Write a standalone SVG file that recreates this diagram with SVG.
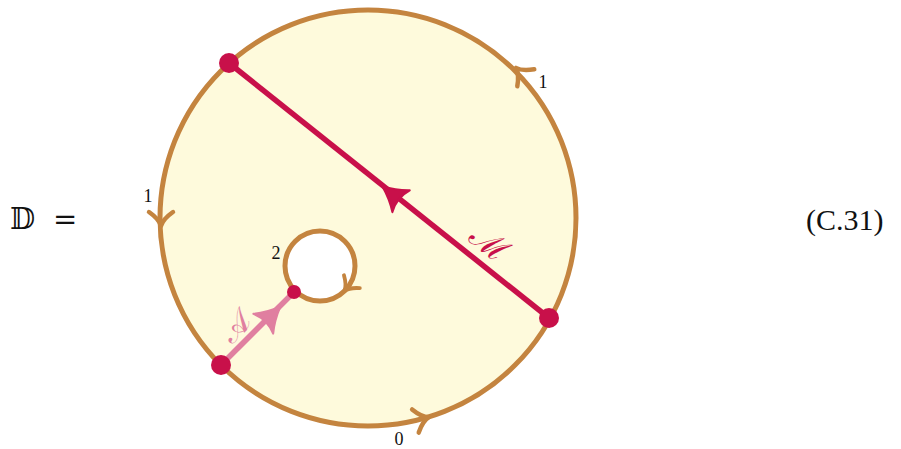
<svg xmlns="http://www.w3.org/2000/svg" width="901" height="449" viewBox="0 0 901 449">
<defs>
<style>
.bd{stroke:#c4843f;stroke-width:5}
.barb{fill:none;stroke:#c4843f;stroke-width:4.5;stroke-linecap:round;stroke-linejoin:round}
.num{font-family:"Liberation Serif","DejaVu Serif",serif;font-size:18px;fill:#111;text-anchor:middle}
.big{font-family:"DejaVu Serif","Liberation Serif",serif;font-size:29px;fill:#111}
</style>
<path id="to" d="M-11,-12 Q-4,-2 3,0 Q-4,2 -11,12"/>
<path id="stealth" d="M6,0 C-4,-4 -12,-9 -18,-14 Q-12,0 -18,14 C-12,9 -4,4 6,0 Z"/>
</defs>
<rect width="901" height="449" fill="#ffffff"/>
<g id="disk">
<circle cx="368" cy="218" r="208" style="fill:#fefadc" class="bd"/>
<use href="#to" class="barb" transform="translate(518,70) rotate(-135)"/>
<use href="#to" class="barb" transform="translate(161,223) rotate(90)"/>
<use href="#to" class="barb" transform="translate(426,418) rotate(-16)"/>
</g>
<g id="hole">
<circle cx="320" cy="266" r="35" style="fill:#ffffff" class="bd"/>
<use href="#to" class="barb" transform="translate(346,289) rotate(129) scale(0.85)"/>
</g>
<g id="connectors">
<line x1="229" y1="63" x2="549" y2="318" stroke="#c8104a" stroke-width="5.5"/>
<use href="#stealth" fill="#c8104a" stroke="#c8104a" stroke-width="2" stroke-linejoin="round" transform="translate(387,190) rotate(-141.45)"/>
<line x1="221" y1="365" x2="294" y2="292" stroke="#e07fa0" stroke-width="5.5"/>
<use href="#stealth" fill="#e07fa0" stroke="#e07fa0" stroke-width="2" stroke-linejoin="round" transform="translate(276,311) rotate(-45)"/>
</g>
<g id="dots" fill="#c8104a">
<circle cx="229" cy="63" r="10"/>
<circle cx="549" cy="318" r="10"/>
<circle cx="221" cy="365" r="10"/>
<circle cx="294" cy="292" r="7"/>
</g>
<g id="labels">
<text class="num" x="543" y="88">1</text>
<text class="num" x="148" y="202">1</text>
<text class="num" x="276" y="259">2</text>
<text class="num" x="399" y="445">0</text>
<text font-family="DejaVu Serif,serif" font-size="34" fill="#c8104a" text-anchor="middle" transform="translate(482,252) rotate(38.5)">ℳ</text>
<text font-family="DejaVu Serif,serif" font-size="32" fill="#e07fa0" text-anchor="middle" transform="translate(243,334) rotate(-45)">𝒜</text>
<text class="big" x="10" y="229">𝔻</text>
<text class="big" x="53" y="229">=</text>
<text x="806" y="230" font-family="Liberation Serif,serif" font-size="30" fill="#111">(C.31)</text>
</g>
</svg>
